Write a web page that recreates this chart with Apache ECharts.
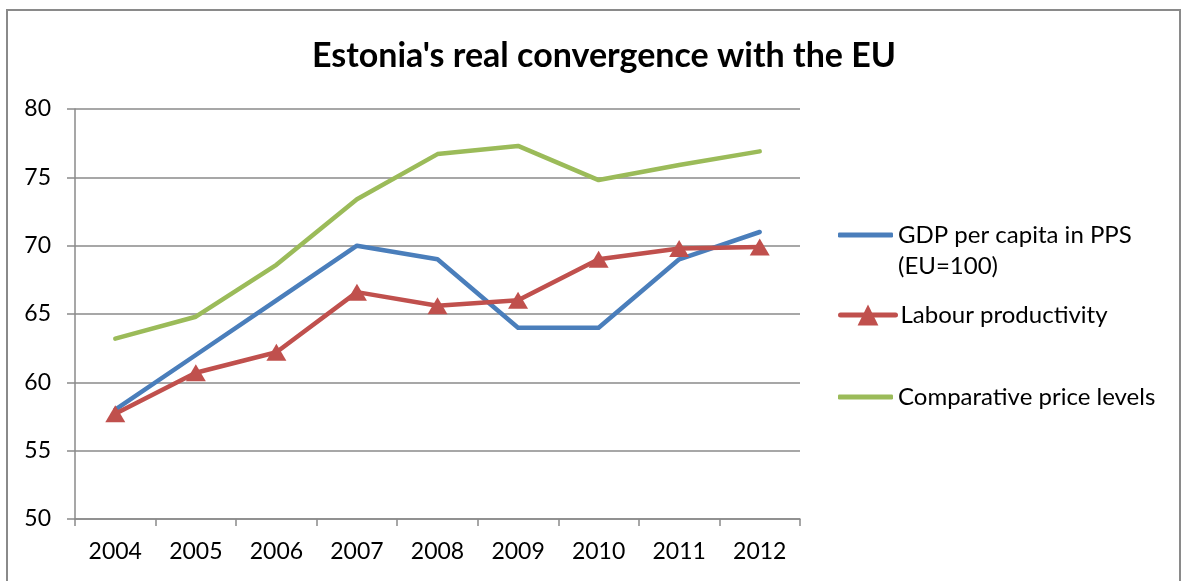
<!DOCTYPE html>
<html>
<head>
<meta charset="utf-8">
<style>
  html, body { margin: 0; padding: 0; background: #fff; }
  #chart { width: 1181px; height: 581px; }
</style>
<script src="https://cdn.jsdelivr.net/npm/echarts@6/dist/echarts.min.js"></script>
</head>
<body>
<div id="chart"></div>
<script>
// Years on the horizontal axis
const years = ['2004', '2005', '2006', '2007', '2008', '2009', '2010', '2011', '2012'];

// Indices, EU = 100
const gdpPerCapita = [58, 62, 66, 70, 69, 64, 64, 69, 71];
const labourProductivity = [57.7, 60.7, 62.2, 66.6, 65.6, 66.0, 69.0, 69.8, 69.9];
const priceLevels = [63.2, 64.8, 68.6, 73.4, 76.7, 77.3, 74.8, 75.9, 76.9];

// Series names
const seriesNames = ['GDP per capita in PPS', 'Labour productivity', 'Comparative price levels'];

const FONT = 'Lato, "Open Sans", "Noto Sans", sans-serif';
const GRID_COLOR = '#8a8a8a';
const BLUE = '#4a7ebb';
const RED = '#c0504d';
const GREEN = '#9bbb59';
const LEGEND_LH = 31;

const chart = echarts.init(document.getElementById('chart'));

const legendBase = {
  orient: 'vertical',
  left: 838,
  padding: 0,
  itemWidth: 55,
  selectedMode: false,
  textStyle: { fontFamily: FONT, fontSize: 24, color: '#000', lineHeight: LEGEND_LH }
};

chart.setOption({
  animation: false,
  backgroundColor: '#fff',
  title: {
    text: "Estonia's real convergence with the EU",
    left: 599,
    textAlign: 'center',
    top: 34,
    textStyle: { fontFamily: FONT, fontSize: 34, fontWeight: 'bold', color: '#000' }
  },
  legend: [
    // two-line label; the blank first line keeps the name level with the icon
    Object.assign({}, legendBase, {
      top: 235 - 1.5 * LEGEND_LH,
      itemHeight: 5,
      icon: 'roundRect',
      data: [seriesNames[0]],
      formatter: name => '\u00a0\n' + name + '\n(EU=100)'
    }),
    Object.assign({}, legendBase, {
      top: 315 - LEGEND_LH / 2,
      itemHeight: 26,
      lineStyle: { width: 5, cap: 'round' },
      data: [seriesNames[1]]
    }),
    Object.assign({}, legendBase, {
      top: 397 - LEGEND_LH / 2,
      itemHeight: 5,
      icon: 'roundRect',
      data: [seriesNames[2]]
    })
  ],
  grid: { left: 75, right: 381, top: 109, bottom: 62, containLabel: false },
  xAxis: {
    type: 'category',
    data: years,
    boundaryGap: true,
    axisLine: { lineStyle: { color: GRID_COLOR, width: 1.5 } },
    axisTick: { show: true, length: 7, alignWithLabel: false, lineStyle: { color: GRID_COLOR, width: 1.5 } },
    axisLabel: { margin: 21, color: '#000', fontFamily: FONT, fontSize: 23 },
    splitLine: { show: false }
  },
  yAxis: {
    type: 'value',
    min: 50,
    max: 80,
    interval: 5,
    axisLine: { show: true, lineStyle: { color: GRID_COLOR, width: 1.5 } },
    axisTick: { show: true, length: 8, lineStyle: { color: GRID_COLOR, width: 1.5 } },
    axisLabel: { margin: 24, color: '#000', fontFamily: FONT, fontSize: 23 },
    splitLine: { show: true, lineStyle: { color: GRID_COLOR, width: 1.5 } }
  },
  series: [
    {
      name: seriesNames[0],
      type: 'line',
      data: gdpPerCapita,
      symbol: 'none',
      color: BLUE,
      itemStyle: { color: BLUE },
      lineStyle: { width: 4.5, color: BLUE, cap: 'round', join: 'round' },
      z: 3
    },
    {
      name: seriesNames[1],
      type: 'line',
      data: labourProductivity,
      symbol: 'triangle',
      symbolSize: [20, 17],
      showAllSymbol: true,
      color: RED,
      itemStyle: { color: RED },
      lineStyle: { width: 4.5, color: RED, cap: 'round', join: 'round' },
      z: 4
    },
    {
      name: seriesNames[2],
      type: 'line',
      data: priceLevels,
      symbol: 'none',
      color: GREEN,
      itemStyle: { color: GREEN },
      lineStyle: { width: 4.5, color: GREEN, cap: 'round', join: 'round' },
      z: 2
    }
  ],
  graphic: [
    {
      type: 'rect',
      silent: true,
      shape: { x: 7, y: 10, width: 1173, height: 600 },
      style: { fill: null, stroke: '#8a8a8a', lineWidth: 2 }
    }
  ]
});
</script>
</body>
</html>
